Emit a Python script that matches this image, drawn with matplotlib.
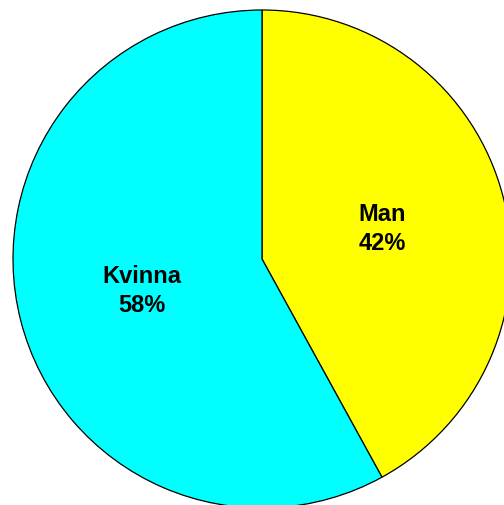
import matplotlib.pyplot as plt

labels = ["Man", "Kvinna"]
shares = [42, 58]
colors = ["#FFFF00", "#00FFFF"]

W, H = 504, 506
cx, cy, r = 262, 260, 249  # pixel geometry of the pie

fig = plt.figure(figsize=(W / 100, H / 100), dpi=100)
ax = fig.add_axes([0, 0, 1, 1])

texts = [f"{lab}\n{v}%" for lab, v in zip(labels, shares)]
wedges, txt = ax.pie(
    shares,
    labels=texts,
    colors=colors,
    startangle=90,
    counterclock=False,
    labeldistance=0.5,
    wedgeprops=dict(edgecolor="black", linewidth=0.9),
    textprops=dict(fontsize=17, fontweight="bold", family="Liberation Sans",
                   ha="center", va="center", linespacing=1.35),
)

ax.set_xlim(-cx / r, (W - cx) / r)
ax.set_ylim(-(H - cy) / r, cy / r)
ax.set_aspect("auto")
ax.axis("off")

fig.savefig("out.png", dpi=100)
